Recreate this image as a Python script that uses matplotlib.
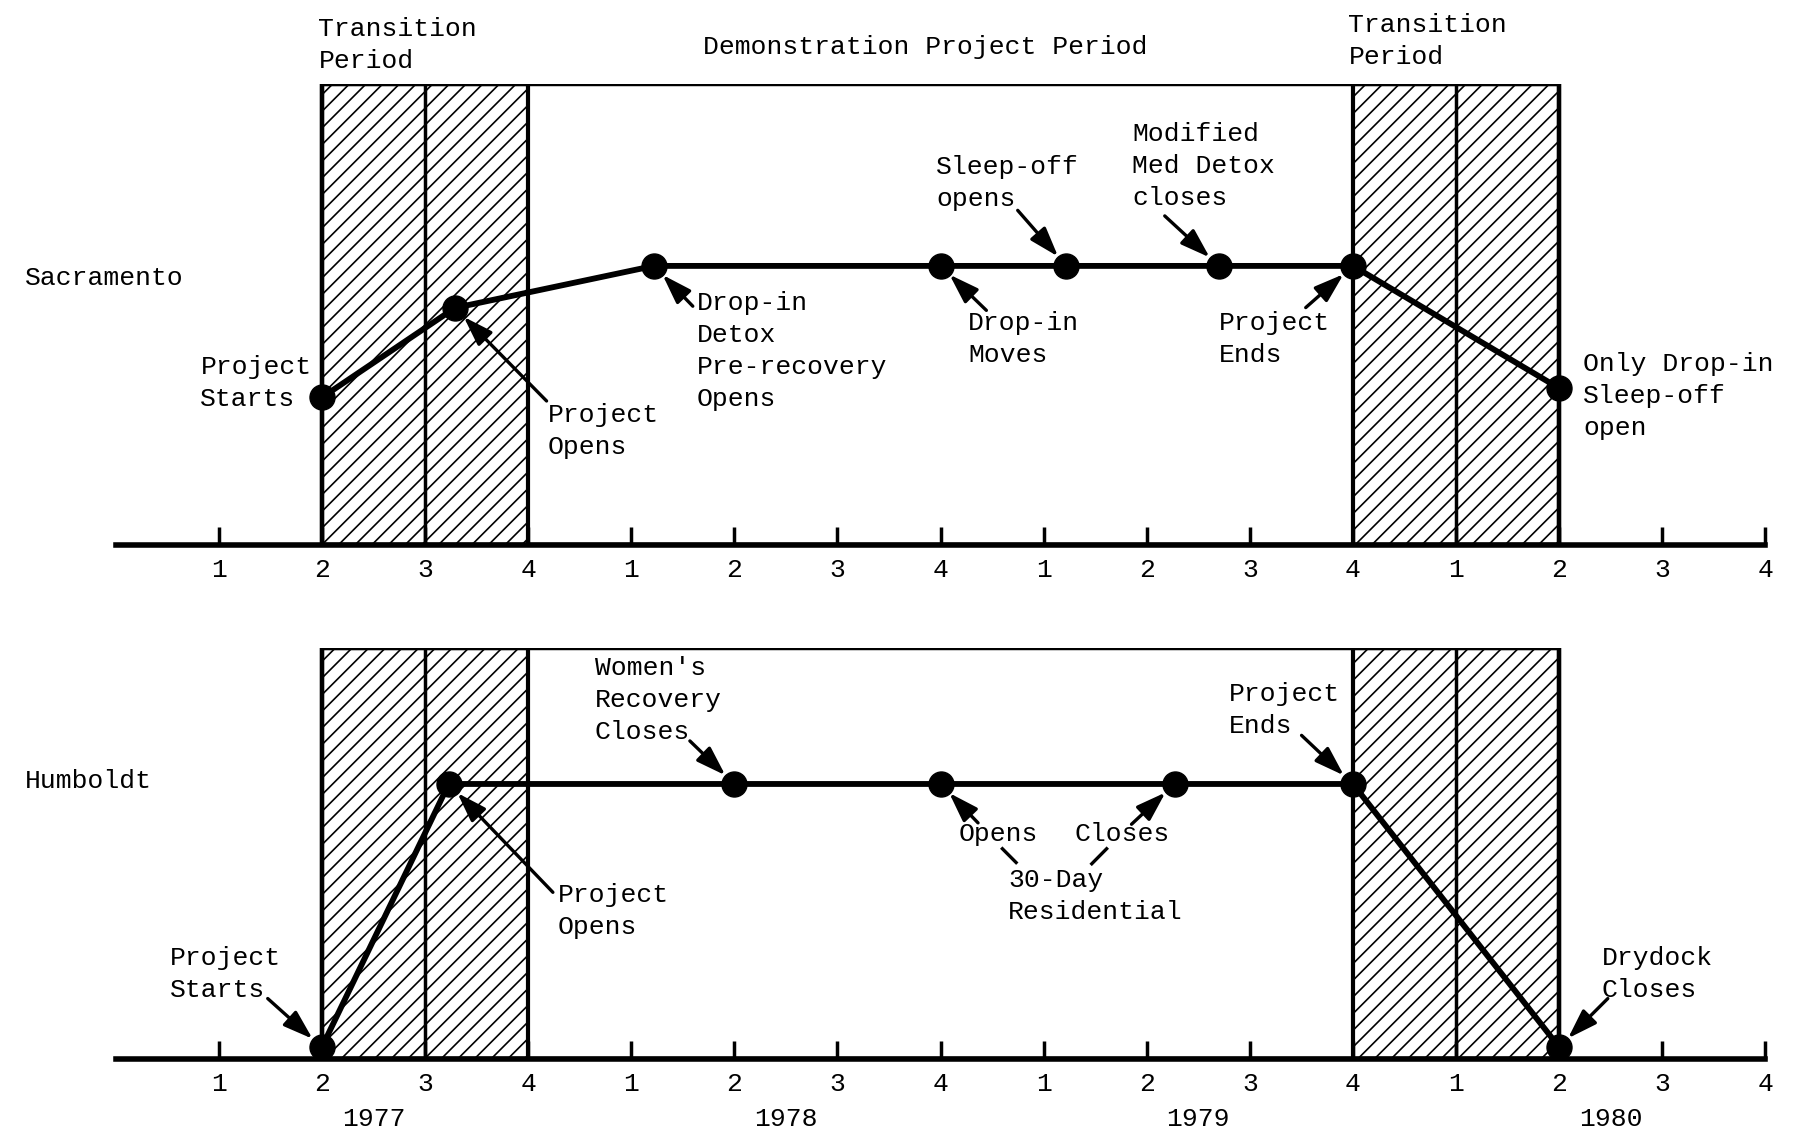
import matplotlib
matplotlib.use('Agg')
import matplotlib.pyplot as plt
from matplotlib.patches import Rectangle

plt.rcParams['font.family'] = ['Liberation Mono', 'DejaVu Sans Mono']
plt.rcParams['font.size'] = 19
plt.rcParams['hatch.linewidth'] = 1.2

# Eje de trimestres: 1977 T1 .. 1980 T4 -> posiciones 1..16
quarterTicks = list(range(1, 17))
quarterLabels = ['1', '2', '3', '4'] * 4
years = ['1977', '1978', '1979', '1980']
yearCenters = [2.5, 6.5, 10.5, 14.5]

# Periodos (en posiciones de trimestre)
transitionStart = [2, 12]
transitionEnd = [4, 14]
transitionSplit = [3, 13]
projectStart = 2
projectEnd = 14

# Sacramento
sacX = [2, 3.29, 5.22, 8, 9.22, 10.7, 12, 14]
sacY = [0.32, 0.514, 0.605, 0.605, 0.605, 0.605, 0.605, 0.34]

# Humboldt
humX = [2, 3.23, 6, 8, 10.27, 12, 14]
humY = [0.03, 0.67, 0.67, 0.67, 0.67, 0.67, 0.03]

# Etiquetas: (texto, x, y, indice del punto o None, desplazamiento de la flecha en pt)
sacNotes = [
    ('Project\nStarts', 0.822, 0.352, None, None),
    ('Project\nOpens', 4.189, 0.248, 1, (66, -67)),
    ('Drop-in\nDetox\nPre-recovery\nOpens', 5.633, 0.421, 2, (28, -29)),
    ('Drop-in\nMoves', 8.267, 0.447, 3, (33, -32)),
    ('Sleep-off\nopens', 7.956, 0.784, 4, (-35, 40)),
    ('Modified\nMed Detox\ncloses', 9.856, 0.821, 5, (-39, 36)),
    ('Project\nEnds', 10.7, 0.447, 6, (-34, -30)),
    ('Only Drop-in\nSleep-off\nopen', 14.233, 0.323, None, None),
]
humNotes = [
    ('Project\nStarts', 0.522, 0.209, 0, (-39, 35)),
    ('Project\nOpens', 4.289, 0.362, 1, (75, -78)),
    ("Women's\nRecovery\nCloses", 4.644, 0.875, 2, (-32, 31)),
    ('Opens', 8.178, 0.549, 3, (27, -28)),
    ('Closes', 9.3, 0.549, 4, (-31, -29)),
    ('30-Day\nResidential', 8.656, 0.397, None, None),
    ('Project\nEnds', 10.8, 0.851, 5, (-37, 35)),
    ('Drydock\nCloses', 14.411, 0.209, 6, (35, 35)),
]

fig = plt.figure(figsize=(17.96, 11.48), dpi=100)
axTop = fig.add_axes([0, 0.5251, 1, 0.4021])
axBot = fig.add_axes([0, 0.0771, 1, 0.3582])

lineSp = 1.42


def drawPanel(ax, xs, ys, notes, siteName, siteY):
    ax.set_xlim(-1.122, 16.297)
    ax.set_ylim(0, 1)
    for s in ['left', 'right', 'top']:
        ax.spines[s].set_visible(False)
    ax.spines['bottom'].set_bounds(0, 16)
    ax.spines['bottom'].set_linewidth(4)
    ax.set_yticks([])
    ax.set_xticks(quarterTicks)
    ax.set_xticklabels(quarterLabels)
    ax.tick_params(axis='x', direction='in', length=13, width=2.5, pad=9)

    # Periodos de transicion rayados
    for a, b in zip(transitionStart, transitionEnd):
        ax.add_patch(Rectangle((a, 0), b - a, 1, facecolor='white', edgecolor='black',
                               hatch='//', lw=3, zorder=1))
    ax.add_patch(Rectangle((projectStart, 0), projectEnd - projectStart, 1, fill=False,
                           edgecolor='black', lw=3.2, zorder=2))
    ax.vlines(transitionSplit, 0, 1, color='black', lw=2.5, zorder=2)

    # Linea del proyecto
    ax.plot(xs, ys, color='black', lw=4.2, marker='o', markersize=18, zorder=4, clip_on=False)

    ax.text(-0.878, siteY, siteName, ha='left', va='center')
    for txt, tx, ty, idx, off in notes:
        ax.text(tx, ty, txt, ha='left', va='center', linespacing=lineSp)
        if idx is not None:
            ax.annotate('', xy=(xs[idx], ys[idx]), xytext=off, textcoords='offset points',
                        arrowprops=dict(arrowstyle='-|>,head_length=0.75,head_width=0.25',
                                        color='black', lw=2.4, shrinkA=0, shrinkB=9,
                                        mutation_scale=24), zorder=5)


drawPanel(axTop, sacX, sacY, sacNotes, 'Sacramento', 0.578)
drawPanel(axBot, humX, humY, humNotes, 'Humboldt', 0.677)

# Titulos de periodos
axTop.text(1.967, 1.084, 'Transition\nPeriod', ha='left', va='center', linespacing=lineSp)
axTop.text(7.856, 1.079, 'Demonstration Project Period', ha='center', va='center')
axTop.text(11.956, 1.092, 'Transition\nPeriod', ha='left', va='center', linespacing=lineSp)

# Guiones de "30-Day Residential"
axBot.plot([8.6, 8.733], [0.5125, 0.479], color='black', lw=2.4)
axBot.plot([9.611, 9.467], [0.5125, 0.476], color='black', lw=2.4)

# Anios
for yr, xc in zip(years, yearCenters):
    axBot.text(xc, -0.145, yr, ha='center', va='center')

fig.savefig('out.png', dpi=100)
plt.close()
